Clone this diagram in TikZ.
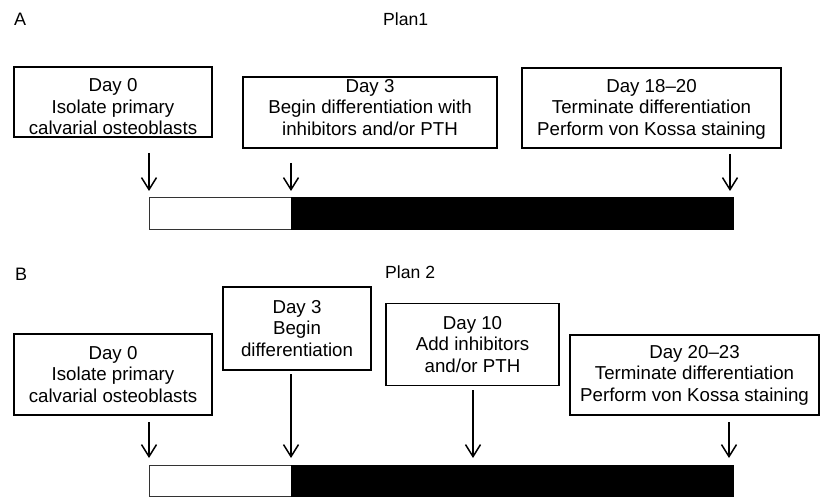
\documentclass[tikz,border=0pt]{standalone}
\usepackage{fontspec}
\setmainfont{Liberation Sans}
\usetikzlibrary{arrows.meta}
\tikzset{
  frame/.style={draw=black, line width=1.2pt, inner sep=0pt},
  boxtext/.style={align=center, inner sep=0pt, font=\fontsize{18.7}{21.5}\selectfont},
  stepbox/.style={frame, boxtext},
  panellabel/.style={font=\fontsize{18}{20}\selectfont, inner sep=0pt, anchor=base west},
  planlabel/.style={font=\fontsize{17.6}{20}\selectfont, inner sep=0pt, anchor=base west},
  arr/.style={line width=1.5pt, -{Straight Barb[length=12pt,width=15pt,line width=1.5pt]}},
  barwhite/.style={draw=black!80, line width=1pt, fill=white},
  barblack/.style={draw=black, line width=1pt, fill=black}
}
\begin{document}
\begin{tikzpicture}[x=1pt,y=-1pt]
\useasboundingbox (0,0) rectangle (820,497);
% Panel A
\node[panellabel] (labA) at (14,26) {A};
\node[planlabel] (planA) at (383,26) {Plan1};
\node[frame, minimum width=198pt, minimum height=70pt] (A1) at (113,102) {};
\node[boxtext] (A1t) at (113,107) {Day 0\\Isolate primary\\calvarial osteoblasts};
\node[frame, minimum width=254pt, minimum height=71pt] (A2) at (370,112.5) {};
\node[boxtext] (A2t) at (370,107.3) {Day 3\\Begin differentiation with\\inhibitors and/or PTH};
\node[frame, minimum width=259pt, minimum height=80pt] (A3) at (651.5,108) {};
\node[boxtext] (A3t) at (651.5,109) {Day 18–20\\Terminate differentiation\\Perform von Kossa staining};
\draw[barwhite] (149,198) rectangle (291,230);
\draw[barblack] (291,198) rectangle (733,230);
\coordinate (a1s) at (149,153); \coordinate (a1e) at (149,191);
\coordinate (a2s) at (291,163); \coordinate (a2e) at (291,191);
\coordinate (a3s) at (730,154); \coordinate (a3e) at (730,191);
\draw[arr] (a1s) -- (a1e);
\draw[arr] (a2s) -- (a2e);
\draw[arr] (a3s) -- (a3e);
% Panel B
\node[panellabel] (labB) at (15,280.7) {B};
\node[planlabel] (planB) at (385,278.3) {Plan 2};
\node[stepbox, minimum width=198pt, minimum height=81pt] (B1) at (113,374.5)
  {Day 0\\Isolate primary\\calvarial osteoblasts};
\node[stepbox, minimum width=148pt, minimum height=83pt] (B2) at (297,328.5)
  {Day 3\\Begin\\differentiation};
\node[stepbox, minimum width=173pt, minimum height=82pt] (B3) at (472.5,344.2)
  {Day 10\\Add inhibitors\\and/or PTH};
\node[stepbox, minimum width=249pt, minimum height=80pt] (B4) at (694.5,375)
  {Day 20–23\\Terminate differentiation\\Perform von Kossa staining};
\draw[barwhite] (149,465) rectangle (291,496.5);
\draw[barblack] (291,465) rectangle (733,496.5);
\coordinate (b1s) at (149,422); \coordinate (b1e) at (149,458);
\coordinate (b2s) at (291,374); \coordinate (b2e) at (291,458);
\coordinate (b3s) at (473,390); \coordinate (b3e) at (473,458);
\coordinate (b4s) at (729,422); \coordinate (b4e) at (729,458);
\draw[arr] (b1s) -- (b1e);
\draw[arr] (b2s) -- (b2e);
\draw[arr] (b3s) -- (b3e);
\draw[arr] (b4s) -- (b4e);
\end{tikzpicture}
\end{document}
